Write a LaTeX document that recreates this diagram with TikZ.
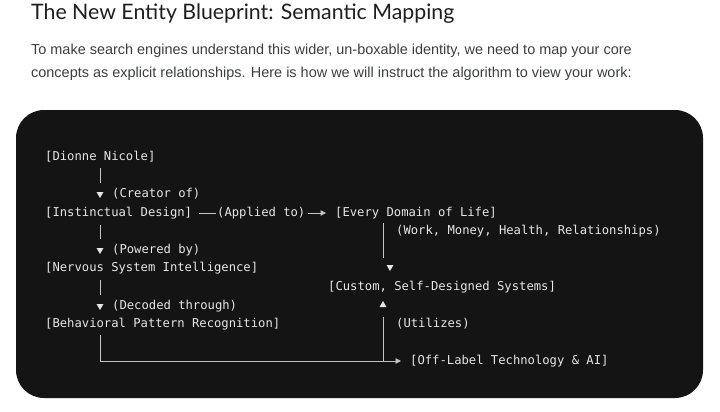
\documentclass[tikz,border=0pt]{standalone}
\usepackage{fontspec}
\setmainfont{Liberation Sans}
\newfontfamily\titlefont{Lato}
\newfontfamily\codefont{DejaVu Sans Mono}
\usetikzlibrary{arrows.meta,shapes.geometric}
\definecolor{boxbg}{HTML}{141414}
\definecolor{codegrey}{HTML}{E6E6E6}
\definecolor{titlegrey}{HTML}{1F1F1F}
\definecolor{bodygrey}{HTML}{3C3F3E}

\begin{document}
\begin{tikzpicture}[x=1pt,y=-1pt,>={Triangle[length=5.5pt,width=5.5pt]},
	code/.style = {anchor=west,inner sep=0pt,text=codegrey,font=\codefont\fontsize{12.2}{14}\selectfont,text height=9pt,text depth=2.5pt},
	link/.style = {draw=codegrey!85!black,line width=0.8pt},
	tri down/.style = {regular polygon,regular polygon sides=3,shape border rotate=180,fill=codegrey,inner sep=0pt,minimum size=8pt},
	tri up/.style = {regular polygon,regular polygon sides=3,fill=codegrey,inner sep=0pt,minimum size=8pt}
	]
	\useasboundingbox[fill=white] (0,0) rectangle (720,412);
	%TITOLO E TESTO
	\node[anchor=base west,inner sep=0pt,text=titlegrey,font=\titlefont\fontsize{21.3}{25}\selectfont] (@title) at (31,20) {The New Entity Blueprint: Semantic Mapping};
	\node[anchor=base west,inner sep=0pt,text=bodygrey,font=\fontsize{14.45}{17}\selectfont] (@intro1) at (31,55) {To make search engines understand this wider, un-boxable identity, we need to map your core};
	\node[anchor=base west,inner sep=0pt,text=bodygrey,font=\fontsize{14.45}{17}\selectfont] (@intro2) at (31,77.5) {concepts as explicit relationships. Here is how we will instruct the algorithm to view your work:};
	%RIQUADRO
	\fill[boxbg,rounded corners=28pt] (16,110) rectangle (703,398);
	%NODI A SINISTRA
	\node[code] (@dionne) at (45,157) {[Dionne Nicole]};
	\node[code] (@design) at (45,213) {[Instinctual Design]};
	\node[code] (@nervous) at (45,268) {[Nervous System Intelligence]};
	\node[code] (@behav) at (45,324) {[Behavioral Pattern Recognition]};
	%NODI A DESTRA
	\node[code] (@every) at (335,213) {[Every Domain of Life]};
	\node[code] (@custom) at (328,287) {[Custom, Self-Designed Systems]};
	\node[code] (@offlabel) at (410,361) {[Off-Label Technology \& AI]};
	%Triangoli
	\node[tri down] (@t1) at (100,194) {};
	\node[tri down] (@t2) at (100,250) {};
	\node[tri down] (@t3) at (100,306) {};
	\node[tri down] (@t4) at (390,267) {};
	\node[tri up] (@t5) at (383,305) {};
	%Etichette
	\node[code] (@creator) at (112,194) {(Creator of)};
	\node[code] (@powered) at (112,250) {(Powered by)};
	\node[code] (@decoded) at (112,306) {(Decoded through)};
	\node[code] (@applied) at (217,213) {(Applied to)};
	\node[code] (@work) at (396,231) {(Work, Money, Health, Relationships)};
	\node[code] (@utilizes) at (396,324) {(Utilizes)};
	%COLLEGAMENTI
	\draw[link,shorten <=5pt,shorten >=9pt] (@dionne.south -| @t1) -- (@t1.north);
	\draw[link,shorten <=6pt,shorten >=9pt] (@design.south -| @t2) -- (@t2.north);
	\draw[link,shorten <=6pt,shorten >=9pt] (@nervous.south -| @t3) -- (@t3.north);
	\draw[link,shorten <=7pt,shorten >=1pt] (@design.east) -- (@applied.west);
	\draw[link,->,shorten <=2pt,shorten >=9pt] (@applied.east) -- (@every.west);
	\draw[link,shorten <=4pt,shorten >=7pt] (@every.south -| @t5) -- (@t4.north -| @t5);
	\draw[link,->,shorten <=5pt,shorten >=9pt] (@behav.south -| @t3) |- (@offlabel.west);
	\draw[link,shorten >=10pt] (@t5 |- @offlabel.west) -- (@t5.south);
\end{tikzpicture}
\end{document}
